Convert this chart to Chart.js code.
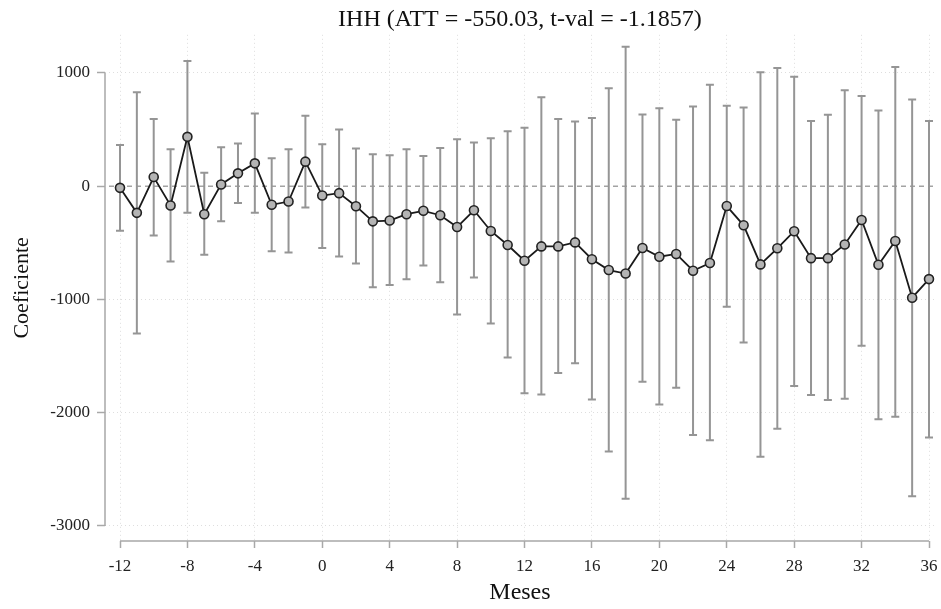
<!DOCTYPE html>
<html lang="es">
<head>
  <meta charset="UTF-8">
  <title>IHH event study</title>
  <script src="https://cdn.jsdelivr.net/npm/chart.js"></script>
  <style>
    html, body { margin: 0; padding: 0; background: #fff; }
    #wrap { width: 941px; height: 609px; }
  </style>
</head>
<body>
<div id="wrap"><canvas id="ihhChart" width="941" height="609"></canvas></div>

<script>
  const months = [-12, -11, -10, -9, -8, -7, -6, -5, -4, -3, -2, -1, 0, 1, 2, 3, 4, 5, 6, 7, 8, 9, 10, 11, 12,
    13, 14, 15, 16, 17, 18, 19, 20, 21, 22, 23, 24, 25, 26, 27, 28, 29, 30, 31, 32, 33, 34, 35, 36];
  const coef = [-15, -236, 80, -171, 435, -248, 15, 113, 201, -165, -136, 216, -83, -62, -177, -311, -304, -248,
    -218, -257, -361, -213, -396, -520, -659, -532, -532, -497, -645, -741, -772, -546, -623, -599, -747, -679,
    -176, -346, -691, -549, -398, -636, -636, -515, -299, -694, -485, -985, -821];
  const upper = [364, 829, 592, 326, 1104, 119, 343, 376, 642, 246, 326, 621, 370, 500, 332, 281, 272, 326,
    266, 337, 414, 385, 423, 485, 515, 784, 592, 571, 602, 864, 1230, 633, 688, 586, 704, 895,
    710, 694, 1006, 1043, 966, 574, 630, 846, 796, 667, 1052, 765, 574];
  const lower = [-393, -1301, -435, -665, -236, -606, -310, -148, -236, -574, -585, -189, -547, -621, -683, -893,
    -872, -822, -701, -849, -1133, -807, -1212, -1514, -1828, -1839, -1650, -1563, -1883, -2343, -2759, -1728,
    -1929, -1781, -2198, -2244, -1065, -1380, -2389, -2142, -1765, -1843, -1889, -1877, -1410, -2059, -2037,
    -2738, -2219];
  const xTicks = [-12, -8, -4, 0, 4, 8, 12, 16, 20, 24, 28, 32, 36];
  const yTicks = [-3000, -2000, -1000, 0, 1000];

  const serif = '"Liberation Serif", "DejaVu Serif", serif';

  // error bars, zero line and the two axis lines (drawn only over the tick range, Stata style)
  const stataBits = {
    id: 'stataBits',
    beforeDatasetsDraw(chart) {
      const { ctx, chartArea } = chart;
      const x = chart.scales.x, y = chart.scales.y;

      ctx.save();
      ctx.strokeStyle = '#a3a3a3';
      ctx.lineWidth = 1.5;
      ctx.setLineDash([5, 4]);
      const y0 = y.getPixelForValue(0);
      ctx.beginPath();
      ctx.moveTo(chartArea.left + 4, y0);
      ctx.lineTo(chartArea.right, y0);
      ctx.stroke();
      ctx.restore();

      ctx.save();
      ctx.strokeStyle = '#959595';
      ctx.lineWidth = 2;
      months.forEach((m, i) => {
        const px = x.getPixelForValue(m);
        const top = y.getPixelForValue(upper[i]);
        const bot = y.getPixelForValue(lower[i]);
        ctx.beginPath();
        ctx.moveTo(px, top);
        ctx.lineTo(px, bot);
        ctx.moveTo(px - 4, top);
        ctx.lineTo(px + 4, top);
        ctx.moveTo(px - 4, bot);
        ctx.lineTo(px + 4, bot);
        ctx.stroke();
      });
      ctx.restore();
    },
    afterDraw(chart) {
      const { ctx, chartArea } = chart;
      const x = chart.scales.x, y = chart.scales.y;
      ctx.save();
      ctx.strokeStyle = '#a8a8a8';
      ctx.lineWidth = 1.5;
      ctx.beginPath();
      ctx.moveTo(chartArea.left, y.getPixelForValue(yTicks[yTicks.length - 1]));
      ctx.lineTo(chartArea.left, y.getPixelForValue(yTicks[0]));
      ctx.moveTo(x.getPixelForValue(xTicks[0]), chartArea.bottom);
      ctx.lineTo(x.getPixelForValue(xTicks[xTicks.length - 1]), chartArea.bottom);
      ctx.stroke();
      ctx.restore();
    }
  };

  const ctx = document.getElementById('ihhChart').getContext('2d');

  new Chart(ctx, {
    type: 'line',
    data: {
      datasets: [{
        data: months.map((m, i) => ({ x: m, y: coef[i] })),
        borderColor: '#1a1a1a',
        borderWidth: 1.8,
        pointRadius: 4.5,
        pointBackgroundColor: '#b4b4b4',
        pointBorderColor: '#222',
        pointBorderWidth: 1.6,
        tension: 0,
        fill: false
      }]
    },
    options: {
      responsive: false,
      animation: false,
      layout: { padding: { right: 0 } },
      plugins: {
        legend: { display: false },
        tooltip: { enabled: false },
        title: {
          display: true,
          fullSize: false,
          text: 'IHH (ATT = -550.03, t-val = -1.1857)',
          color: '#111',
          font: { family: serif, size: 24, weight: 'normal', lineHeight: 1.2 },
          padding: { top: 5, bottom: 1 }
        }
      },
      scales: {
        x: {
          type: 'linear',
          min: -12.89,
          max: 36.35,
          afterBuildTicks: s => { s.ticks = xTicks.map(v => ({ value: v })); },
          afterFit: s => { s.height = 68; s.paddingRight = 0; },
          border: { display: false, dash: [1, 3] },
          grid: {
            color: '#dedede',
            lineWidth: 1,
            drawTicks: true,
            tickLength: 7,
            tickColor: '#a8a8a8',
            tickWidth: 1.5,
            tickBorderDash: []
          },
          ticks: {
            color: '#222',
            font: { family: serif, size: 17 },
            padding: 8,
            maxRotation: 0,
            callback: v => String(v)
          },
          title: {
            display: true,
            text: 'Meses',
            color: '#111',
            font: { family: serif, size: 24, lineHeight: 1.2 },
            padding: { top: 0, bottom: 2 }
          }
        },
        y: {
          min: -3133,
          max: 1336,
          afterBuildTicks: s => { s.ticks = yTicks.map(v => ({ value: v })); },
          afterFit: s => { s.width = 105; },
          border: { display: false, dash: [1, 3] },
          grid: {
            color: ctx => ctx.tick && ctx.tick.value === 0 ? 'rgba(0,0,0,0)' : '#dedede',
            lineWidth: 1,
            drawTicks: true,
            tickLength: 8,
            tickColor: '#a8a8a8',
            tickWidth: 1.5,
            tickBorderDash: []
          },
          ticks: {
            color: '#222',
            font: { family: serif, size: 17 },
            padding: 7,
            callback: v => String(v)
          },
          title: {
            display: true,
            text: 'Coeficiente',
            color: '#111',
            font: { family: serif, size: 22, lineHeight: 1.2 },
            padding: { top: 9, bottom: 0 }
          }
        }
      }
    },
    plugins: [stataBits]
  });
</script>
</body>
</html>
